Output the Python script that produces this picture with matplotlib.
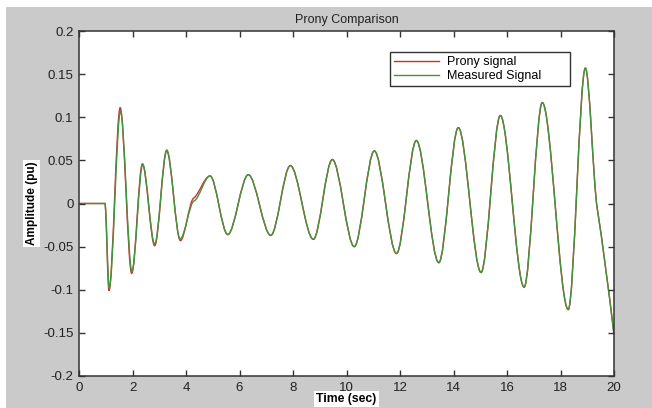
import matplotlib
matplotlib.use('Agg')
import matplotlib.pyplot as plt
from matplotlib.path import Path
from matplotlib.patches import PathPatch, Rectangle
from matplotlib.lines import Line2D

plt.rcParams['font.family'] = ['Liberation Sans', 'DejaVu Sans']
plt.rcParams['axes.unicode_minus'] = False

# ---- data (knot times, values, slopes) ----
meas_t = [0.0, 0.97, 1.13, 1.55, 1.98, 2.38, 2.83, 3.28, 3.78, 4.30, 4.90, 5.56,
          6.33, 7.17, 7.90, 8.76, 9.47, 10.29, 11.04, 11.87, 12.61, 13.45, 14.18,
          15.03, 15.75, 16.64, 17.32, 18.29, 18.93, 19.37, 20.0]
meas_v = [0.0, 0.0, -0.098, 0.107, -0.079, 0.045, -0.047, 0.062, -0.041, 0.003, 0.032,
          -0.036, 0.0334, -0.037, 0.044, -0.0415, 0.051, -0.050, 0.061, -0.058, 0.073,
          -0.0686, 0.088, -0.080, 0.102, -0.097, 0.117, -0.123, 0.157, -0.005, -0.152]
meas_s = [0.0, 0.0, 0.0, 0.0, 0.0, 0.0, 0.0, 0.0, 0.0, 0.01, 0.0, 0.0,
          0.0, 0.0, 0.0, 0.0, 0.0, 0.0, 0.0, 0.0, 0.0, 0.0, 0.0,
          0.0, 0.0, 0.0, 0.0, 0.0, 0.0, -0.2, -0.26]

prony_t = [0.0, 0.97, 1.12, 1.54, 1.97, 2.37, 2.83, 3.28, 3.79, 4.28, 4.90, 5.56,
           6.33, 7.17, 7.90, 8.76, 9.47, 10.29, 11.04, 11.87, 12.61, 13.45, 14.18,
           15.03, 15.75, 16.64, 17.32, 18.29, 18.93, 19.37, 20.0]
prony_v = [0.0, 0.0, -0.101, 0.111, -0.081, 0.046, -0.049, 0.061, -0.043, 0.006, 0.032,
           -0.036, 0.0334, -0.037, 0.044, -0.0415, 0.051, -0.050, 0.061, -0.058, 0.073,
           -0.0686, 0.088, -0.080, 0.102, -0.097, 0.117, -0.123, 0.157, -0.005, -0.152]
prony_s = [0.0, 0.0, 0.0, 0.0, 0.0, 0.0, 0.0, 0.0, 0.0, 0.02, 0.0, 0.0,
           0.0, 0.0, 0.0, 0.0, 0.0, 0.0, 0.0, 0.0, 0.0, 0.0, 0.0,
           0.0, 0.0, 0.0, 0.0, 0.0, 0.0, -0.2, -0.26]

x_ticks = [0, 2, 4, 6, 8, 10, 12, 14, 16, 18, 20]
y_ticks = [-0.2, -0.15, -0.1, -0.05, 0, 0.05, 0.1, 0.15, 0.2]
y_tick_labels = ['-0.2', '-0.15', '-0.1', '-0.05', '0', '0.05', '0.1', '0.15', '0.2']

labels = ['Prony signal', 'Measured Signal']
title = 'Prony Comparison'
xlabel = 'Time (sec)'
ylabel = 'Amplitude (pu)'

RED = '#d42a2a'
GREEN = '#3f963f'


def hermite_path(t, v, s):
    verts = [(t[0], v[0])]
    codes = [Path.MOVETO]
    for i in range(1, len(t)):
        t0, v0, s0 = t[i - 1], v[i - 1], s[i - 1]
        t1, v1, s1 = t[i], v[i], s[i]
        h = (t1 - t0) / 3.0
        verts += [(t0 + h, v0 + s0 * h), (t1 - h, v1 - s1 * h), (t1, v1)]
        codes += [Path.CURVE4] * 3
    return Path(verts, codes)


fig = plt.figure(figsize=(6.52, 4.08), dpi=100, facecolor='white')
fig.patches.append(Rectangle((6 / 652, 0), 1 - 6 / 652, 401 / 408,
                             transform=fig.transFigure, facecolor='#cacaca',
                             edgecolor='none', zorder=-10))

ax = fig.add_axes([79 / 652, 32 / 408, 535 / 652, 345 / 408])
ax.set_facecolor('white')

ax.add_patch(PathPatch(hermite_path(prony_t, prony_v, prony_s), facecolor='none',
                       edgecolor=RED, lw=1.0, transform=ax.transData))
ax.add_patch(PathPatch(hermite_path(meas_t, meas_v, meas_s), facecolor='none',
                       edgecolor=GREEN, lw=1.0, transform=ax.transData))

ax.set_xlim(0, 20)
ax.set_ylim(-0.2, 0.2)
ax.set_xticks(x_ticks)
ax.set_xticklabels([str(v) for v in x_ticks])
ax.set_yticks(y_ticks)
ax.set_yticklabels(y_tick_labels)
ax.tick_params(direction='in', length=4, width=1.0, top=True, right=True,
               labelsize=9.5, colors='#333333', pad=4)
ax.tick_params(axis='x', labelcolor='#222222')
ax.tick_params(axis='y', labelcolor='#222222')
for sp in ax.spines.values():
    sp.set_color('#333333')
    sp.set_linewidth(1.1)

ax.set_title(title, fontsize=9, color='#222222', pad=6)
ax.set_xlabel(xlabel, fontsize=8.8, fontweight='bold', labelpad=-0.5,
              bbox=dict(facecolor='white', edgecolor='none', pad=1.5))
ax.set_ylabel(ylabel, fontsize=8.5, fontweight='bold', labelpad=4,
              bbox=dict(facecolor='white', edgecolor='none', pad=1.5))

top = 1 - (51.7 - 31) / 345
handles = [Line2D([], [], color=RED, lw=1.0), Line2D([], [], color=GREEN, lw=1.0)]
leg = ax.legend(handles, labels, loc='upper left',
                bbox_to_anchor=((390 - 79) / 535, top - 0.1, 180 / 535, 0.1),
                mode='expand', borderaxespad=0, fontsize=9, fancybox=False,
                framealpha=1, edgecolor='#333333', handlelength=3.6,
                handletextpad=0.6, labelspacing=0.15, borderpad=0.35)
leg.get_frame().set_linewidth(1.0)

fig.savefig('out.png', dpi=100, facecolor=fig.get_facecolor())
